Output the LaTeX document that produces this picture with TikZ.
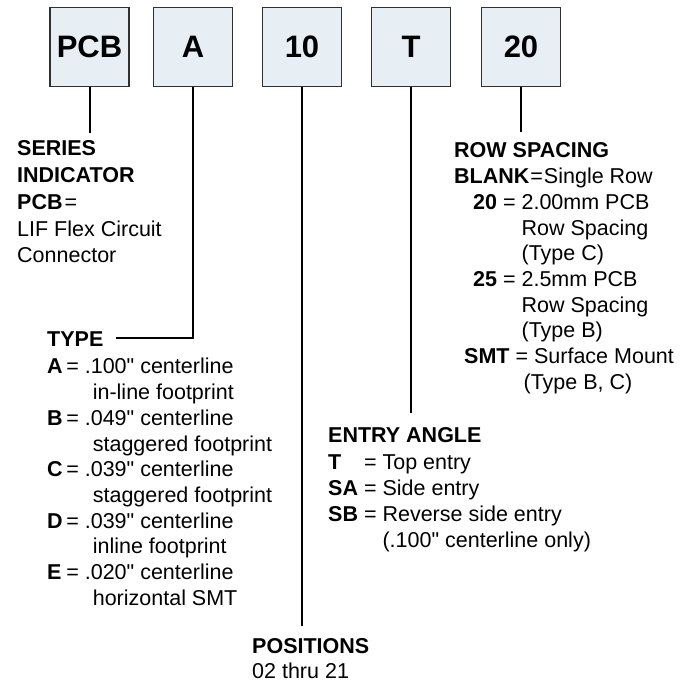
\documentclass[tikz,border=0pt]{standalone}
\usepackage{fontspec}
\setmainfont{Liberation Sans}[Ligatures=TeXOff]
\usepackage{array}
\definecolor{boxfill}{HTML}{E7EEF4}
\definecolor{boxline}{HTML}{303030}
\tikzset{
  field/.style={draw=boxline, fill=boxfill, line width=1.3pt, minimum width=79pt, minimum height=79pt, inner sep=0pt, font=\fontsize{31}{33}\selectfont\bfseries},
  legend/.style={anchor=base west, inner sep=0pt, font=\fontsize{21.5}{25.7}\selectfont},
  lead/.style={line width=2pt}
}
\begin{document}
\begin{tikzpicture}[x=1pt,y=-1pt]
\useasboundingbox (0,0) rectangle (694,684);
% part number fields
\node[field] (pcb) at (89.5,47) {PCB};
\node[field] (a) at (193,47) {A};
\node[field] (ten) at (302,47) {10};
\node[field] (t) at (411,47) {T};
\node[field] (twenty) at (521,47) {20};
% free ends of the leads
\coordinate (pcbend) at (89.5,133);
\coordinate (typeend) at (116,338);
\coordinate (posend) at (302,626);
\coordinate (entryend) at (411,413);
\coordinate (rowend) at (521,132);
\draw[lead] (pcb.south) -- (pcbend);
\draw[lead] (a.south) |- (typeend);
\draw[lead] (ten.south) -- (posend);
\draw[lead] (t.south) -- (entryend);
\draw[lead] (twenty.south) -- (rowend);
% legends
\node[legend] (series) at (17,156) {\begin{tabular}[t]{@{}l@{}}
\textbf{SERIES}\\[1pt]
\textbf{INDICATOR}\\[1pt]
\textbf{PCB}\kern2pt=\\[1pt]
LIF Flex Circuit\\[1pt]
Connector
\end{tabular}};
\node[legend] (type) at (47,347) {\begin{tabular}[t]{@{}l@{\,}l@{\ }l@{}}
\multicolumn{3}{@{}l@{}}{\textbf{TYPE}}\\[1.3pt]
\textbf{A} & = & .100" centerline\\
 & & \hspace{8pt}in-line footprint\\
\textbf{B} & = & .049" centerline\\
 & & \hspace{8pt}staggered footprint\\
\textbf{C} & = & .039" centerline\\
 & & \hspace{8pt}staggered footprint\\
\textbf{D} & = & .039" centerline\\
 & & \hspace{8pt}inline footprint\\
\textbf{E} & = & .020" centerline\\
 & & \hspace{8pt}horizontal SMT
\end{tabular}};
\node[legend] (rowsp) at (454,158) {\begin{tabular}[t]{@{}l@{}}
\textbf{ROW SPACING}\\
\textbf{BLANK}\kern1pt=\kern1pt Single Row\\
\hspace*{19pt}\textbf{20} = 2.00mm PCB\\
\hspace*{19pt}\phantom{\textbf{20} = }Row Spacing\\
\hspace*{19pt}\phantom{\textbf{20} = }(Type C)\\
\hspace*{19pt}\textbf{25} = 2.5mm PCB\\
\hspace*{19pt}\phantom{\textbf{25} = }Row Spacing\\
\hspace*{19pt}\phantom{\textbf{25} = }(Type B)\\
\hspace*{10pt}\textbf{SMT} = Surface Mount\\
\hspace*{21pt}\phantom{\textbf{25} = }(Type B, C)
\end{tabular}};
\node[legend] (entry) at (328,443) {\begin{tabular}[t]{@{}l@{\ }l@{\ }l@{}}
\multicolumn{3}{@{}l@{}}{\textbf{ENTRY ANGLE}}\\[1.3pt]
\textbf{T} & = & Top entry\\
\textbf{SA} & = & Side entry\\
\textbf{SB} & = & Reverse side entry\\
 & & (.100" centerline only)
\end{tabular}};
\node[legend] (pos) at (252,653) {\begin{tabular}[t]{@{}l@{}}
\textbf{POSITIONS}\\[-0.7pt]
02 thru 21
\end{tabular}};
\end{tikzpicture}
\end{document}
